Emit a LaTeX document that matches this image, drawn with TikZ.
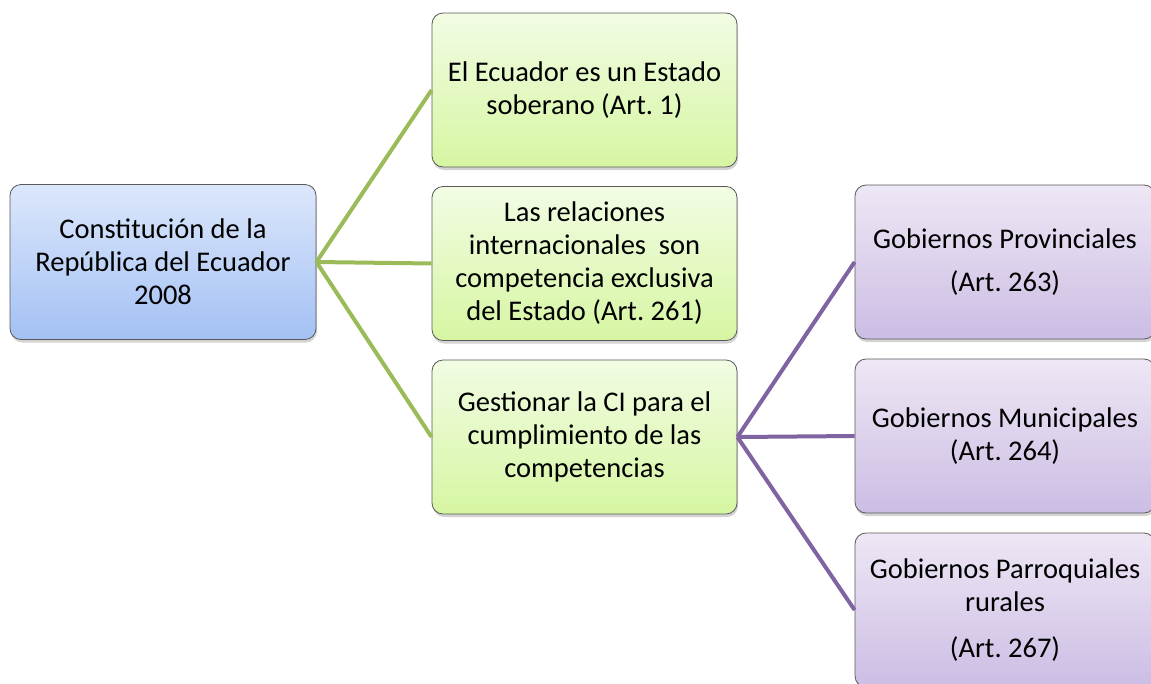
\documentclass[tikz,border=0pt]{standalone}
\usepackage{fontspec}
\setmainfont{Carlito}
\usetikzlibrary{shadows}
\frenchspacing

\definecolor{verde}{HTML}{9BBB59}
\definecolor{morado}{HTML}{8064A2}
\definecolor{azulA}{HTML}{DCE7FB}
\definecolor{azulB}{HTML}{A3C1F4}
\definecolor{verdeA}{HTML}{F2FCE4}
\definecolor{verdeB}{HTML}{D6F6A2}
\definecolor{moradoA}{HTML}{EEE7F5}
\definecolor{moradoB}{HTML}{CCBDE4}

\tikzset{
  caja/.style={draw=gray!70!black, line width=0.8pt, rounded corners=11pt,
    align=center, font=\fontsize{28.5}{33}\selectfont, inner sep=2pt,
    drop shadow={shadow xshift=1pt, shadow yshift=-3pt, opacity=0.35}},
  raiz/.style={caja, minimum width=306pt, minimum height=155pt,
    top color=azulA, bottom color=azulB},
  hoja/.style={caja, minimum width=305pt, minimum height=154pt,
    top color=verdeA, bottom color=verdeB},
  gob/.style={caja, minimum width=300pt, minimum height=154pt,
    top color=moradoA, bottom color=moradoB},
  ramaV/.style={draw=verde, line width=4pt},
  ramaM/.style={draw=morado, line width=4pt}
}

\begin{document}
\begin{tikzpicture}[x=1pt, y=-1pt]
\useasboundingbox (0,0) rectangle (1151,683);

\node[raiz] (constitucion) at (163,262) {Constitución de la\\República del Ecuador\\2008};

\node[hoja] (soberano) at (584.5,90) {El Ecuador es un Estado\\soberano (Art. 1)};
\node[hoja] (relaciones) at (584.5,263.5) {Las relaciones\\internacionales~ son\\competencia exclusiva\\del Estado (Art. 261)};
\node[hoja] (gestionar) at (584.5,437) {Gestionar la CI para el\\cumplimiento de las\\competencias};

\node[gob] (provinciales) at (1005,262) {Gobiernos Provinciales\\[10pt](Art. 263)};
\node[gob] (municipales) at (1005,436) {Gobiernos Municipales\\(Art. 264)};
\node[gob] (parroquiales) at (1005,610) {Gobiernos Parroquiales\\rurales\\[13pt](Art. 267)};

\draw[ramaV] (constitucion.east) -- (soberano.west);
\draw[ramaV] (constitucion.east) -- (relaciones.west);
\draw[ramaV] (constitucion.east) -- (gestionar.west);

\draw[ramaM] (gestionar.east) -- (provinciales.west);
\draw[ramaM] (gestionar.east) -- (municipales.west);
\draw[ramaM] (gestionar.east) -- (parroquiales.west);
\end{tikzpicture}
\end{document}
